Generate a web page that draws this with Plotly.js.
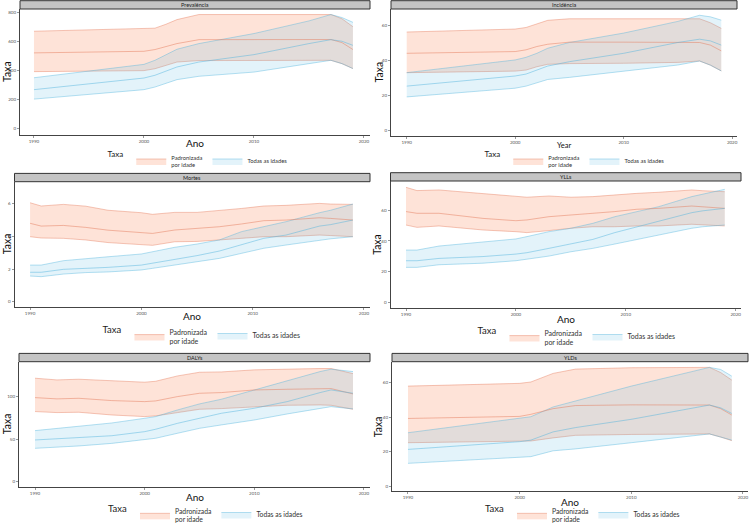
<!DOCTYPE html>
<html><head><meta charset="utf-8">
<script src="https://cdn.plot.ly/plotly-3.0.1.min.js"></script>
<style>html,body{margin:0;padding:0;background:#fff}#chart{width:750px;height:523px}</style>
</head><body><div id="chart"></div>
<script>
// ---------------- DATA ----------------
const xTickYears = [1990, 2000, 2010, 2020];
const seriesNames = ["Padronizada<br>por idade", "Todas as idades"];
const panelTitles = ["Prevalência", "Incidência", "Mortes", "YLLs", "DALYs", "YLDs"];
const xTitles = ["Ano", "Year", "Ano", "Ano", "Ano", "Ano"];
const yTitle = "Taxa";
const legendTitle = "Taxa";

// Prevalência
const prevYears    = [1990, 2000, 2001, 2002, 2003, 2005, 2010, 2015, 2017, 2018, 2019];
const prevStdMean  = [520, 531, 543, 561, 584, 611, 612, 612, 612, 591, 543];
const prevStdLower = [391, 398, 411, 434, 457, 467, 468, 469, 469, 446, 412];
const prevStdUpper = [669, 685, 690, 717, 749, 784, 784, 784, 784, 755, 700];
const prevAllMean  = [267, 347, 366, 395, 423, 457, 508, 584, 611, 600, 572];
const prevAllLower = [202, 267, 285, 313, 336, 359, 388, 446, 469, 446, 412];
const prevAllUpper = [349, 441, 469, 508, 545, 584, 653, 740, 784, 763, 730];

// Incidência
const incYears    = [1990, 2000, 2001, 2002, 2003, 2005, 2010, 2015, 2017, 2018, 2019];
const incStdMean  = [44.0, 45.0, 46.0, 47.9, 49.2, 50.4, 50.4, 50.4, 50.2, 48.7, 45.4];
const incStdLower = [32.9, 33.8, 34.4, 36.3, 37.7, 38.1, 38.3, 38.8, 39.6, 37.2, 33.9];
const incStdUpper = [56.2, 57.9, 58.8, 61.0, 62.9, 63.8, 63.7, 63.8, 63.8, 61.5, 58.3];
const incAllMean  = [25.2, 31.0, 32.1, 34.4, 36.7, 39.2, 44.0, 50.2, 52.1, 51.1, 48.7];
const incAllLower = [19.0, 24.0, 25.2, 27.1, 29.0, 30.2, 33.8, 37.3, 39.6, 37.2, 33.9];
const incAllUpper = [32.9, 40.2, 41.7, 44.0, 46.9, 50.2, 55.6, 62.3, 65.8, 64.9, 63.0];

// Mortes
const mortYears    = [1990, 1991, 1993, 1995, 1997, 2000, 2001, 2003, 2005, 2007, 2009, 2011, 2013, 2016, 2017, 2019];
const mortStdMean  = [4.80, 4.63, 4.67, 4.55, 4.38, 4.22, 4.18, 4.39, 4.47, 4.59, 4.76, 4.96, 5.00, 5.14, 5.10, 5.00];
const mortStdLower = [3.98, 3.90, 3.88, 3.78, 3.62, 3.47, 3.45, 3.67, 3.69, 3.78, 3.88, 3.98, 3.98, 4.08, 4.05, 3.98];
const mortStdUpper = [6.06, 5.86, 5.96, 5.85, 5.60, 5.45, 5.35, 5.47, 5.47, 5.57, 5.71, 5.86, 5.90, 6.02, 5.98, 5.96];
const mortAllMean  = [1.80, 1.80, 1.98, 2.04, 2.10, 2.24, 2.35, 2.59, 2.82, 3.10, 3.47, 3.88, 4.08, 4.63, 4.72, 5.00];
const mortAllLower = [1.57, 1.53, 1.69, 1.78, 1.82, 1.94, 2.04, 2.24, 2.45, 2.65, 2.96, 3.27, 3.47, 3.78, 3.85, 3.98];
const mortAllUpper = [2.24, 2.24, 2.51, 2.65, 2.75, 2.92, 3.06, 3.33, 3.53, 3.78, 4.29, 4.59, 4.90, 5.45, 5.60, 5.98];

// YLLs
const yllYears    = [1990, 1991, 1993, 1995, 1997, 2000, 2001, 2003, 2005, 2007, 2009, 2011, 2013, 2016, 2017, 2019];
const yllStdMean  = [59.0, 57.9, 57.9, 56.2, 54.6, 53.1, 53.6, 55.7, 56.8, 57.5, 59.0, 60.5, 61.1, 62.6, 62.2, 61.1];
const yllStdLower = [50.3, 48.8, 49.7, 48.2, 47.1, 46.0, 45.4, 46.7, 48.2, 49.2, 49.2, 49.7, 49.7, 50.8, 50.5, 49.7];
const yllStdUpper = [74.7, 72.6, 73.0, 71.9, 70.4, 68.7, 68.3, 69.1, 68.3, 68.7, 69.8, 70.8, 71.5, 73.0, 72.5, 71.9];
const yllAllMean  = [27.2, 27.2, 28.7, 29.4, 29.9, 31.5, 32.4, 35.2, 38.0, 41.0, 45.4, 49.2, 52.5, 58.3, 59.5, 61.1];
const yllAllLower = [22.9, 22.9, 24.6, 25.1, 25.6, 27.2, 28.1, 30.2, 33.0, 35.2, 38.0, 41.0, 43.8, 48.2, 49.2, 50.3];
const yllAllUpper = [34.1, 34.1, 36.7, 38.0, 39.0, 41.3, 42.8, 46.0, 48.2, 51.4, 55.7, 59.0, 62.2, 68.7, 70.2, 73.4];

// DALYs
const dalyYears    = [1990, 1992, 1994, 1997, 2000, 2001, 2003, 2005, 2007, 2010, 2013, 2016, 2017, 2019];
const dalyStdMean  = [98.8, 97.3, 98.0, 95.3, 94.1, 94.9, 100.0, 103.9, 104.7, 107.8, 108.6, 109.8, 109.4, 103.1];
const dalyStdLower = [82.4, 81.2, 81.6, 78.4, 76.5, 77.3, 81.2, 85.1, 85.9, 88.2, 89.8, 90.2, 89.8, 85.1];
const dalyStdUpper = [121.6, 119.6, 120.4, 118.8, 116.9, 118.0, 124.3, 128.6, 129.0, 131.4, 132.5, 133.0, 133.0, 127.0];
const dalyAllMean  = [49.0, 50.2, 51.4, 54.0, 58.8, 61.6, 68.6, 74.5, 80.4, 86.3, 94.1, 104.7, 107.8, 103.9];
const dalyAllLower = [39.2, 40.4, 42.0, 45.0, 49.0, 51.0, 56.9, 62.7, 66.7, 72.5, 79.6, 86.3, 88.2, 85.5];
const dalyAllUpper = [60.0, 62.7, 65.0, 69.0, 74.5, 76.5, 84.3, 91.4, 96.9, 107.8, 118.4, 129.4, 132.2, 129.4];

// YLDs
const yldYears    = [1990, 2000, 2001, 2003, 2005, 2010, 2017, 2018, 2019];
const yldStdMean  = [39.3, 40.5, 41.7, 45.0, 46.8, 47.2, 47.1, 45.0, 41.3];
const yldStdLower = [25.2, 25.8, 26.2, 28.0, 29.5, 30.0, 30.3, 28.5, 26.4];
const yldStdUpper = [58.1, 59.7, 60.5, 65.5, 68.0, 68.8, 69.0, 66.0, 61.6];
const yldAllMean  = [21.3, 25.8, 26.7, 31.5, 34.0, 38.8, 47.1, 45.5, 42.2];
const yldAllLower = [13.2, 16.6, 17.1, 20.5, 21.6, 25.2, 30.3, 28.5, 26.7];
const yldAllUpper = [31.0, 39.5, 40.3, 46.0, 49.5, 58.1, 69.0, 67.8, 63.9];

// ---------------- LAYOUT / STYLE ----------------
const W = 750, H = 523;
const FONT = 'Lato, "Open Sans", "Noto Sans", sans-serif';
const ORL = 'rgba(228,120,88,0.6)', ORF = 'rgba(250,150,110,0.27)';
const BLL = 'rgba(80,180,222,0.6)', BLF = 'rgba(100,190,230,0.18)';
const py = v => 1 - v / H;

// box: [left, right, top, bottom] px; xo: x-title offset below axis; yo: y-title offset left of axis
const panels = [
  {years: prevYears, sm: prevStdMean, sl: prevStdLower, su: prevStdUpper, am: prevAllMean, al: prevAllLower, au: prevAllUpper,
   box: [20, 370, 9, 135], xr: [1988.73, 2020.55], yr: [-45, 822], yt: [0, 200, 400, 600, 800], leg: [199, 161], lt: 8, li: 5.8, xf: 10, xo: 8.5, yo: 13},
  {years: incYears, sm: incStdMean, sl: incStdLower, su: incStdUpper, am: incAllMean, al: incAllLower, au: incAllUpper,
   box: [391, 737, 9, 136], xr: [1988.55, 2020.45], yr: [-3.4, 69.4], yt: [0, 20, 40, 60], leg: [576, 161], lt: 8, li: 5.8, xf: 7.5, xo: 9.5, yo: 13},
  {years: mortYears, sm: mortStdMean, sl: mortStdLower, su: mortStdUpper, am: mortAllMean, al: mortAllLower, au: mortAllUpper,
   box: [14.5, 370, 181.7, 306.7], xr: [1988.6, 2020.54], yr: [-0.31, 7.35], yt: [0, 2, 4, 6], leg: [203, 337], lt: 9.5, li: 7, xf: 10, xo: 9.5, yo: 7.5},
  {years: yllYears, sm: yllStdMean, sl: yllStdLower, su: yllStdUpper, am: yllAllMean, al: yllAllLower, au: yllAllUpper,
   box: [390.5, 741, 181, 307.7], xr: [1988.59, 2020.48], yr: [-3.2, 78.8], yt: [0, 20, 40, 60], leg: [578, 338], lt: 9.5, li: 7, xf: 10, xo: 11, yo: 13},
  {years: dalyYears, sm: dalyStdMean, sl: dalyStdLower, su: dalyStdUpper, am: dalyAllMean, al: dalyAllLower, au: dalyAllUpper,
   box: [19, 370, 361.7, 486.7], xr: [1988.54, 2020.55], yr: [-5.9, 141], yt: [0, 50, 100], leg: [207, 515.5], lt: 9.5, li: 6.8, xf: 10, xo: 10, yo: 12},
  {years: yldYears, sm: yldStdMean, sl: yldStdLower, su: yldStdUpper, am: yldAllMean, al: yldAllLower, au: yldAllUpper,
   box: [392, 748, 361.7, 490.7], xr: [1988.57, 2020.45], yr: [-2.7, 72.3], yt: [0, 20, 40, 60], leg: [584, 515.5], lt: 9.5, li: 6.8, xf: 10, xo: 11, yo: 14}
];

const traces = [];
const layout = {
  width: W, height: H, margin: {l: 0, r: 0, t: 0, b: 0, autoexpand: false},
  paper_bgcolor: '#fff', plot_bgcolor: '#fff',
  font: {family: FONT, color: '#222'},
  shapes: [], annotations: [], hovermode: false
};

panels.forEach((p, i) => {
  const sfx = i ? String(i + 1) : '';
  const xa = 'x' + sfx, ya = 'y' + sfx, lg = 'legend' + sfx;
  const base = {type: 'scatter', mode: 'lines', xaxis: xa, yaxis: ya, hoverinfo: 'skip', legend: lg, showlegend: false};
  traces.push(Object.assign({}, base, {x: p.years, y: p.sl, line: {color: ORL, width: 0.7}}));
  traces.push(Object.assign({}, base, {x: p.years, y: p.su, line: {color: ORL, width: 0.7}, fill: 'tonexty', fillcolor: ORF,
    name: seriesNames[0], showlegend: true}));
  traces.push(Object.assign({}, base, {x: p.years, y: p.al, line: {color: BLL, width: 0.7}}));
  traces.push(Object.assign({}, base, {x: p.years, y: p.au, line: {color: BLL, width: 0.7}, fill: 'tonexty', fillcolor: BLF,
    name: seriesNames[1], showlegend: true}));
  traces.push(Object.assign({}, base, {x: p.years, y: p.sm, line: {color: ORL, width: 0.8}}));
  traces.push(Object.assign({}, base, {x: p.years, y: p.am, line: {color: BLL, width: 0.8}}));

  const [l, r, t, b] = p.box;
  layout['xaxis' + sfx] = {
    domain: [l / W, r / W], range: p.xr, anchor: ya, tickvals: xTickYears,
    ticks: 'outside', ticklen: 2, tickwidth: 0.6, tickcolor: '#555',
    tickfont: {size: 4.5, color: '#555', family: FONT},
    showline: true, linecolor: '#444', linewidth: 1, showgrid: false, zeroline: false,
    automargin: false, fixedrange: true
  };
  layout['yaxis' + sfx] = {
    domain: [py(b), py(t)], range: p.yr, anchor: xa, tickvals: p.yt,
    ticks: 'outside', ticklen: 2, tickwidth: 0.6, tickcolor: '#555',
    tickfont: {size: 4.5, color: '#555', family: FONT},
    showline: true, linecolor: '#444', linewidth: 1, showgrid: false, zeroline: false,
    automargin: false, fixedrange: true
  };
  // axis titles
  layout.annotations.push({xref: xa + ' domain', yref: ya + ' domain', x: 0.5, y: 0, xanchor: 'center', yanchor: 'middle',
    yshift: -p.xo, text: xTitles[i], showarrow: false, font: {size: p.xf, color: '#111', family: FONT}});
  layout.annotations.push({xref: xa + ' domain', yref: ya + ' domain', x: 0, y: 0.5, xanchor: 'center', yanchor: 'middle',
    xshift: -p.yo, textangle: -90, text: yTitle, showarrow: false, font: {size: 10.5, color: '#111', family: FONT}});
  // facet strip
  layout.shapes.push({type: 'rect', xref: 'paper', yref: 'paper', x0: l / W, x1: r / W,
    y0: py(t), y1: py(t - 8.3), fillcolor: '#C4C4C4', line: {color: '#333', width: 1}, layer: 'above'});
  layout.annotations.push({xref: 'paper', yref: 'paper', x: (l + r) / 2 / W, y: py(t - 4.15),
    xanchor: 'center', yanchor: 'middle', text: panelTitles[i], showarrow: false,
    font: {size: 5.5, color: '#222', family: FONT}});
  layout[lg] = {
    orientation: 'h', x: p.leg[0] / W, y: py(p.leg[1]), xanchor: 'center', yanchor: 'middle',
    traceorder: 'normal',
    title: {text: legendTitle, side: 'left', font: {size: p.lt, color: '#222', family: FONT}},
    font: {size: p.li, color: '#333', family: FONT}, bgcolor: 'rgba(0,0,0,0)',
    valign: 'middle', itemclick: false, itemdoubleclick: false
  };
});

Plotly.newPlot('chart', traces, layout, {staticPlot: true, displayModeBar: false});
</script>
</body></html>
